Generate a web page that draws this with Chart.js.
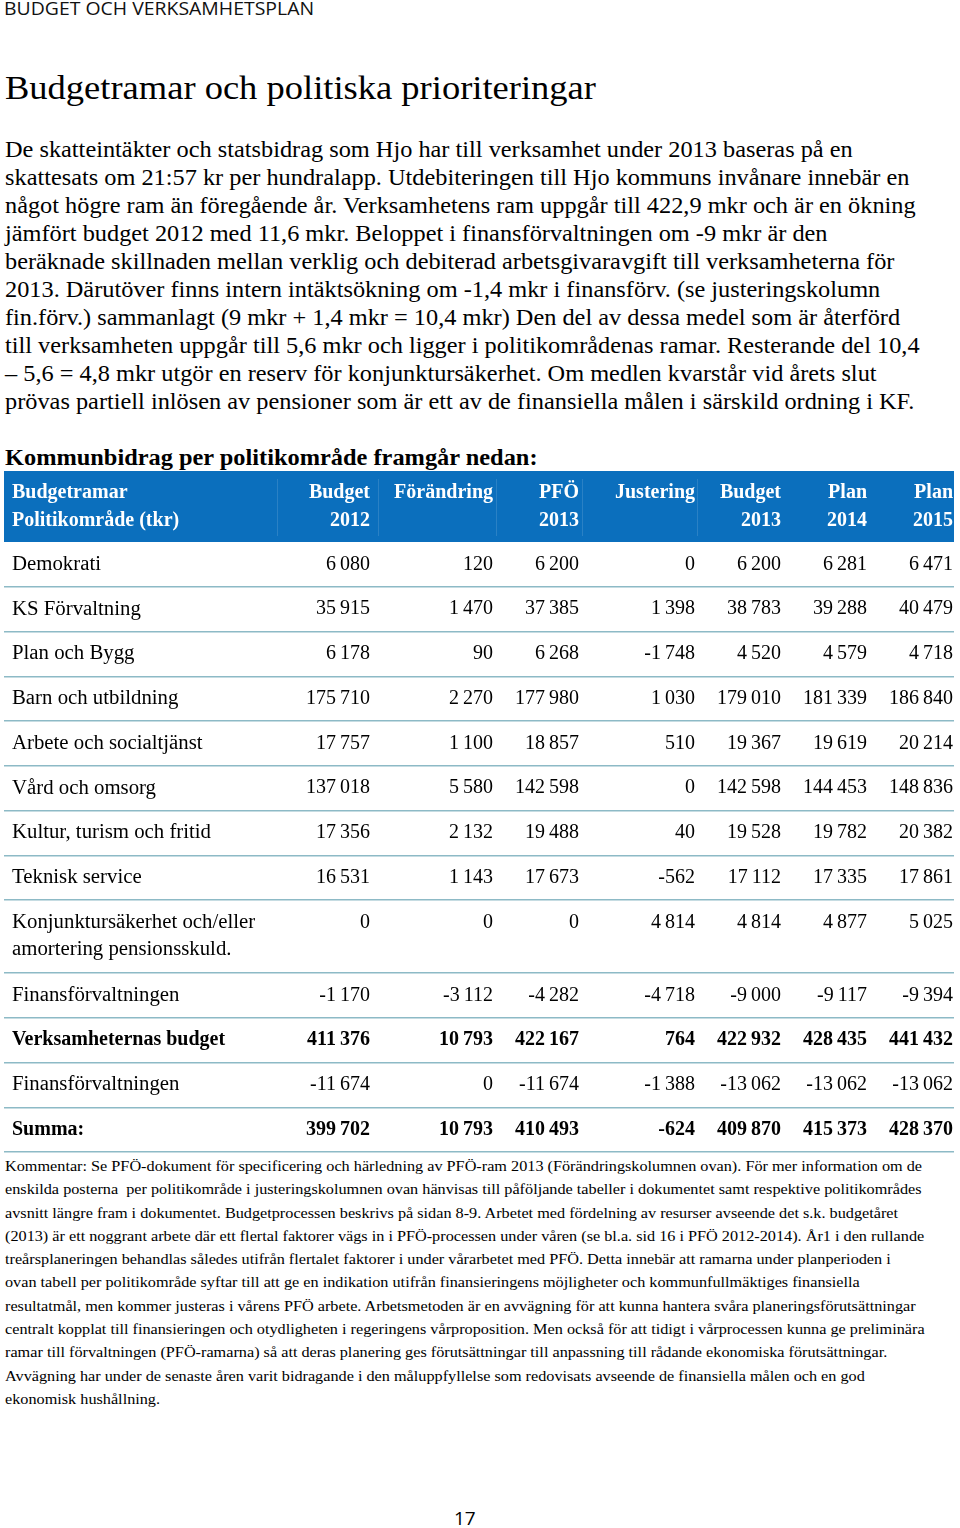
<!DOCTYPE html>
<html lang="sv">
<head>
<meta charset="utf-8">
<title>Budgetramar och politiska prioriteringar</title>
<script src="https://cdn.jsdelivr.net/npm/chart.js@4.4.1/dist/chart.umd.min.js"></script>
<style>
  html, body { margin: 0; padding: 0; background: #fff; }
  #page { position: relative; width: 960px; height: 1528px; overflow: hidden;
          font-family: "Liberation Serif", "Times New Roman", serif; color: #000; }
  .abs { position: absolute; left: 5px; white-space: nowrap; transform-origin: 0 0; }
  #running { font-family: "Open Sans", "Liberation Sans", sans-serif; font-size: 18.5px; line-height: 18px; top: -1px; left: 4px; color: #111; transform: scaleX(1.05); }
  #title { font-size: 33.8px; line-height: 40px; top: 68px; transform: scaleX(1.08); }
  #para { font-size: 22.5px; line-height: 28px; top: 136px; transform: scaleX(1.081); }
  #sub { font-size: 22.5px; line-height: 28px; top: 444px; font-weight: bold; transform: scaleX(1.083); }
  #comment { font-size: 15.1px; line-height: 23.3px; top: 1155px; transform: scaleX(1.075); }
  #pageno { font-family: "Open Sans", "Liberation Sans", sans-serif; font-size: 19px; line-height: 24px; top: 1506px; left: 454px; }
  #tableWrap { position: absolute; left: 0; top: 471px; width: 960px; height: 683px; }
</style>
</head>
<body>
<div id="page">
  <div class="abs" id="running">BUDGET OCH VERKSAMHETSPLAN</div>
  <div class="abs" id="title">Budgetramar och politiska prioriteringar</div>
  <div class="abs" id="para">De skatteintäkter och statsbidrag som Hjo har till verksamhet under 2013 baseras på en<br>skattesats om 21:57 kr per hundralapp. Utdebiteringen till Hjo kommuns invånare innebär en<br>något högre ram än föregående år. Verksamhetens ram uppgår till 422,9 mkr och är en ökning<br>jämfört budget 2012 med 11,6 mkr. Beloppet i finansförvaltningen om -9 mkr är den<br>beräknade skillnaden mellan verklig och debiterad arbetsgivaravgift till verksamheterna för<br>2013. Därutöver finns intern intäktsökning om -1,4 mkr i finansförv. (se justeringskolumn<br>fin.förv.) sammanlagt (9 mkr + 1,4 mkr = 10,4 mkr) Den del av dessa medel som är återförd<br>till verksamheten uppgår till 5,6 mkr och ligger i politikområdenas ramar. Resterande del 10,4<br>– 5,6 = 4,8 mkr utgör en reserv för konjunktursäkerhet. Om medlen kvarstår vid årets slut<br>prövas partiell inlösen av pensioner som är ett av de finansiella målen i särskild ordning i KF.</div>
  <div class="abs" id="sub">Kommunbidrag per politikområde framgår nedan:</div>
  <div id="tableWrap"><canvas id="tbl" width="960" height="683"></canvas></div>
  <div class="abs" id="comment">Kommentar: Se PFÖ-dokument för specificering och härledning av PFÖ-ram 2013 (Förändringskolumnen ovan). För mer information om de<br>enskilda posterna&nbsp; per politikområde i justeringskolumnen ovan hänvisas till påföljande tabeller i dokumentet samt respektive politikområdes<br>avsnitt längre fram i dokumentet. Budgetprocessen beskrivs på sidan 8-9. Arbetet med fördelning av resurser avseende det s.k. budgetåret<br>(2013) är ett noggrant arbete där ett flertal faktorer vägs in i PFÖ-processen under våren (se bl.a. sid 16 i PFÖ 2012-2014). År1 i den rullande<br>treårsplaneringen behandlas således utifrån flertalet faktorer i under vårarbetet med PFÖ. Detta innebär att ramarna under planperioden i<br>ovan tabell per politikområde syftar till att ge en indikation utifrån finansieringens möjligheter och kommunfullmäktiges finansiella<br>resultatmål, men kommer justeras i vårens PFÖ arbete. Arbetsmetoden är en avvägning för att kunna hantera svåra planeringsförutsättningar<br>centralt kopplat till finansieringen och otydligheten i regeringens vårproposition. Men också för att tidigt i vårprocessen kunna ge preliminära<br>ramar till förvaltningen (PFÖ-ramarna) så att deras planering ges förutsättningar till anpassning till rådande ekonomiska förutsättningar.<br>Avvägning har under de senaste åren varit bidragande i den måluppfyllelse som redovisats avseende de finansiella målen och en god<br>ekonomisk hushållning.</div>
  <div class="abs" id="pageno">17</div>
</div>
<script>
// ---------------- DATA ----------------
const rowLabels = [
  "Demokrati", "KS Förvaltning", "Plan och Bygg", "Barn och utbildning",
  "Arbete och socialtjänst", "Vård och omsorg", "Kultur, turism och fritid",
  "Teknisk service", ["Konjunktursäkerhet och/eller", "amortering pensionsskuld."],
  "Finansförvaltningen", "Verksamheternas budget", "Finansförvaltningen", "Summa:"
];
const headerFirstColumn = ["Budgetramar", "Politikområde (tkr)"];
const columnHeaders = [
  ["Budget", "2012"], ["Förändring", ""], ["PFÖ", "2013"], ["Justering", ""],
  ["Budget", "2013"], ["Plan", "2014"], ["Plan", "2015"]
];
const budget2012 = [6080, 35915, 6178, 175710, 17757, 137018, 17356, 16531, 0, -1170, 411376, -11674, 399702];
const forandring = [120, 1470, 90, 2270, 1100, 5580, 2132, 1143, 0, -3112, 10793, 0, 10793];
const pfo2013    = [6200, 37385, 6268, 177980, 18857, 142598, 19488, 17673, 0, -4282, 422167, -11674, 410493];
const justering  = [0, 1398, -1748, 1030, 510, 0, 40, -562, 4814, -4718, 764, -1388, -624];
const budget2013 = [6200, 38783, 4520, 179010, 19367, 142598, 19528, 17112, 4814, -9000, 422932, -13062, 409870];
const plan2014   = [6281, 39288, 4579, 181339, 19619, 144453, 19782, 17335, 4877, -9117, 428435, -13062, 415373];
const plan2015   = [6471, 40479, 4718, 186840, 20214, 148836, 20382, 17861, 5025, -9394, 441432, -13062, 428370];
const boldRowLabels = ["Verksamheternas budget", "Summa:"];

const valueColumns = [budget2012, forandring, pfo2013, justering, budget2013, plan2014, plan2015];

// ---------------- LAYOUT / STYLE ----------------
const LAYOUT = {
  headerH: 71, rowH: 44.75, extraLineH: 28.25, lineGap: 27, headerLineGap: 28,
  labelX: 12, colRight: [370, 493, 579, 695, 781, 867, 953],
  headerSeps: [277, 378, 496, 582, 697],
  fontSize: 20, labelFontSize: 20.8,
  fontFamily: '"Liberation Serif", "Times New Roman", serif',
  headerBlue: '#0b6fbd', lineColor: '#8dbac6'
};

// row geometry in scale units (derived from number of label lines)
const rowCenters = [], rowBounds = [];
(function () {
  let y = LAYOUT.headerH;
  rowLabels.forEach(l => {
    const lines = Array.isArray(l) ? l.length : 1;
    const h = LAYOUT.rowH + LAYOUT.extraLineH * (lines - 1);
    rowCenters.push(y + h / 2);
    y += h;
    rowBounds.push(y);
  });
})();
const tableTotal = rowBounds[rowBounds.length - 1];

function fmt(n) {
  const s = Math.abs(n).toString().replace(/\B(?=(\d{3})+(?!\d))/g, '\u2009');
  return (n < 0 ? '-' : '') + s;
}

const datasets = valueColumns.map((vals, j) => ({
  label: columnHeaders[j].join(' ').trim(),
  data: vals.map((v, i) => ({ x: LAYOUT.colRight[j], y: rowCenters[i] })),
  pointRadius: 0, showLine: false
}));

const tablePlugin = {
  id: 'tablePlugin',
  beforeDatasetsDraw(chart) {
    const { ctx, chartArea, scales: { y } } = chart;
    const top = y.getPixelForValue(0), bot = y.getPixelForValue(LAYOUT.headerH);
    ctx.save();
    ctx.fillStyle = LAYOUT.headerBlue;
    ctx.fillRect(chartArea.left, top, chartArea.right - chartArea.left, bot - top);
    ctx.strokeStyle = 'rgba(255,255,255,0.13)';
    ctx.lineWidth = 1;
    const xs = chart.scales.x;
    LAYOUT.headerSeps.forEach(v => {
      const px = Math.round(xs.getPixelForValue(v)) + 0.5;
      ctx.beginPath();
      ctx.moveTo(px, y.getPixelForValue(8));
      ctx.lineTo(px, y.getPixelForValue(LAYOUT.headerH - 6));
      ctx.stroke();
    });
    ctx.restore();
  },
  afterDatasetsDraw(chart) {
    const { ctx, scales: { x, y } } = chart;
    ctx.save();
    ctx.textBaseline = 'middle';
    const normal = `${LAYOUT.fontSize}px ${LAYOUT.fontFamily}`;
    const bold = `bold ${LAYOUT.fontSize}px ${LAYOUT.fontFamily}`;
    const labelNormal = `${LAYOUT.labelFontSize}px ${LAYOUT.fontFamily}`;
    // header
    const hc = LAYOUT.headerH / 2;
    const hy = [y.getPixelForValue(hc - LAYOUT.headerLineGap / 2), y.getPixelForValue(hc + LAYOUT.headerLineGap / 2)];
    ctx.fillStyle = '#ffffff';
    ctx.font = bold;
    ctx.textAlign = 'left';
    headerFirstColumn.forEach((t, k) => ctx.fillText(t, x.getPixelForValue(LAYOUT.labelX), hy[k]));
    ctx.textAlign = 'right';
    columnHeaders.forEach((h, j) => h.forEach((t, k) => {
      if (t) ctx.fillText(t, x.getPixelForValue(LAYOUT.colRight[j]), hy[k]);
    }));
    // row labels
    ctx.fillStyle = '#000';
    ctx.textAlign = 'left';
    rowLabels.forEach((l, i) => {
      const lines = Array.isArray(l) ? l : [l];
      ctx.font = boldRowLabels.includes(lines[0]) ? bold : labelNormal;
      const c = rowCenters[i];
      lines.forEach((t, k) => {
        const off = (k - (lines.length - 1) / 2) * LAYOUT.lineGap;
        ctx.fillText(t, x.getPixelForValue(LAYOUT.labelX), y.getPixelForValue(c + off));
      });
    });
    // cells via dataset element positions
    ctx.textAlign = 'right';
    chart.data.datasets.forEach((ds, j) => {
      const meta = chart.getDatasetMeta(j);
      meta.data.forEach((pt, i) => {
        const lines = Array.isArray(rowLabels[i]) ? rowLabels[i].length : 1;
        const isBold = boldRowLabels.includes(Array.isArray(rowLabels[i]) ? rowLabels[i][0] : rowLabels[i]);
        ctx.font = isBold ? bold : normal;
        const off = -(lines - 1) / 2 * LAYOUT.lineGap;
        ctx.fillText(fmt(valueColumns[j][i]), pt.x, y.getPixelForValue(rowCenters[i] + off));
      });
    });
    ctx.restore();
  }
};

new Chart(document.getElementById('tbl'), {
  type: 'scatter',
  data: { datasets },
  options: {
    responsive: false, animation: false, devicePixelRatio: 1, events: [],
    layout: { padding: { left: 4, right: 6, top: 0, bottom: 2 } },
    plugins: { legend: { display: false }, tooltip: { enabled: false } },
    scales: {
      x: { type: 'linear', min: 4, max: 954, display: false },
      y: {
        type: 'linear', min: 0, max: tableTotal, reverse: true, display: true,
        afterBuildTicks: s => { s.ticks = rowBounds.map(v => ({ value: v })); },
        ticks: { display: false },
        grid: { color: LAYOUT.lineColor, lineWidth: 1.5, drawTicks: false },
        border: { display: false }
      }
    }
  },
  plugins: [tablePlugin]
});
</script>
</body>
</html>
